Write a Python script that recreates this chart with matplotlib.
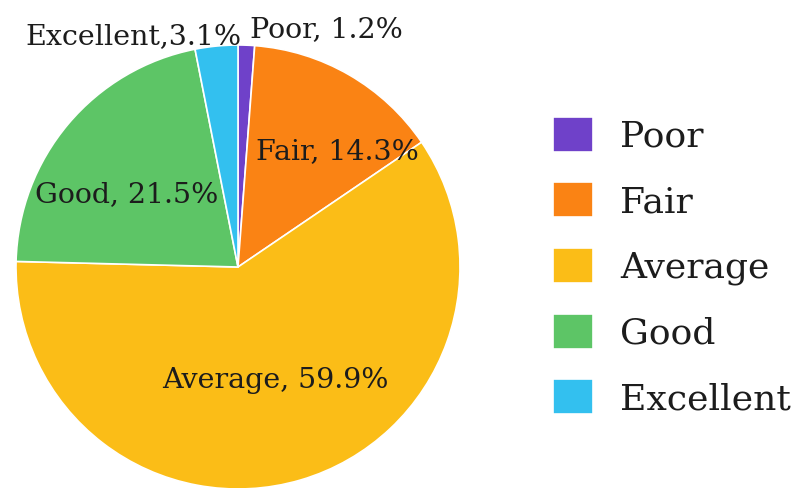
import matplotlib
matplotlib.use("Agg")
import matplotlib.pyplot as plt

# Rating distribution
categories = ["Poor", "Fair", "Average", "Good", "Excellent"]
shares = [1.2, 14.3, 59.9, 21.5, 3.1]
label_texts = ["Poor, 1.2%", "Fair, 14.3%", "Average, 59.9%", "Good, 21.5%", "Excellent,3.1%"]

colors = ["#6f41c9", "#fa8314", "#fbbd17", "#5dc566", "#33c0ef"]
# label anchor points in pie units (centre = 0, radius = 1)
label_xy = [(0.40, 1.068), (0.45, 0.52), (0.17, -0.51), (-0.50, 0.325), (-0.47, 1.036)]

plt.rcParams["font.family"] = ["DejaVu Serif"]
W, H = 803, 488
fig = plt.figure(figsize=(W / 100, H / 100), dpi=100)
fig.patch.set_facecolor("white")

cx, cy, R = 238, 267, 222
ax = fig.add_axes([(cx - R) / W, (H - cy - R) / H, 2 * R / W, 2 * R / H])
wedges, _ = ax.pie(shares, colors=colors, startangle=90, counterclock=False,
                   radius=1, wedgeprops=dict(edgecolor="white", linewidth=1.2))
ax.set_xlim(-1, 1)
ax.set_ylim(-1, 1)
ax.set_aspect("auto")
for w in wedges:
    w.set_clip_on(False)

for txt, (x, y) in zip(label_texts, label_xy):
    ax.text(x, y, txt, ha="center", va="center", fontsize=20.5, color="#1c1c1c",
            clip_on=False)

fig.legend(wedges, categories, loc="upper left", bbox_to_anchor=(553 / W, 1 - 117 / H),
           frameon=False, fontsize=26, borderpad=0, borderaxespad=0,
           handlelength=1.1, handleheight=1.1,
           handletextpad=0.75, labelspacing=0.8, labelcolor="#1c1c1c")

fig.savefig("out.png", dpi=100, facecolor="white")
